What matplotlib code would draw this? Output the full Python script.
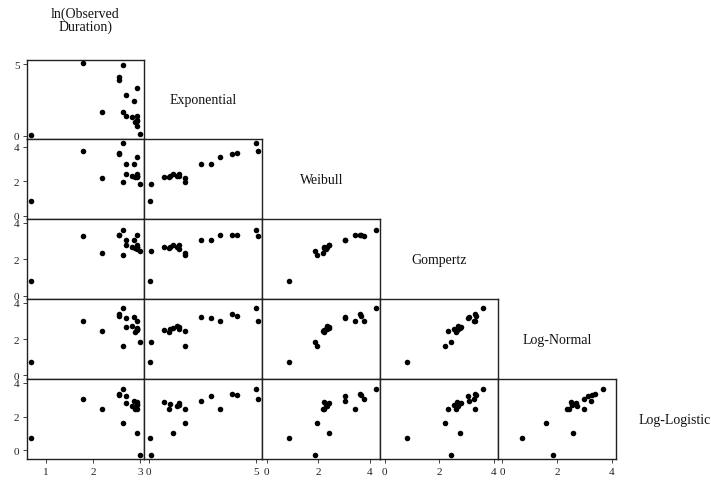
import numpy as np
import matplotlib.pyplot as plt

plt.rcParams['font.family'] = ['Liberation Serif', 'DejaVu Serif']

ln_obs      = [0.68, 2.99, 2.93, 2.90, 2.93, 2.93, 2.83, 2.71, 2.93, 2.20, 2.63, 2.88, 2.71, 2.93, 2.55, 2.55, 2.63, 1.79]
exponential = [0.08, 0.09, 0.70, 0.94, 1.00, 1.13, 1.33, 1.41, 1.41, 1.67, 1.67, 2.42, 2.87, 3.30, 3.86, 4.12, 4.96, 5.07]
weibull     = [0.86, 1.86, 2.24, 2.24, 2.33, 2.43, 2.33, 2.43, 2.30, 2.20, 1.95, 3.02, 3.02, 3.41, 3.62, 3.66, 4.23, 3.77]
gompertz    = [0.82, 2.43, 2.65, 2.63, 2.68, 2.77, 2.68, 2.81, 2.56, 2.32, 2.21, 3.08, 3.05, 3.32, 3.32, 3.36, 3.60, 3.27]
log_normal  = [0.73, 1.86, 2.52, 2.37, 2.54, 2.59, 2.74, 2.68, 2.55, 2.44, 1.61, 3.23, 3.14, 2.99, 3.38, 3.27, 3.69, 2.99]
log_logist  = [0.70, -0.30, 2.86, 2.44, 2.75, 1.00, 2.63, 2.80, 2.70, 2.46, 1.60, 2.92, 3.20, 2.44, 3.35, 3.29, 3.62, 3.04]

names = ['ln(Observed\nDuration)', 'Exponential', 'Weibull', 'Gompertz', 'Log-Normal', 'Log-Logistic']
tick_vals = [[1, 2, 3], [0, 5], [0, 2, 4], [0, 2, 4], [0, 2, 4], [0, 2, 4]]

data = [np.array(v) for v in [ln_obs, exponential, weibull, gompertz, log_normal, log_logist]]
n_var = len(data)

W, H = 711, 481
fig = plt.figure(figsize=(W / 100, H / 100), dpi=100)

# cell grid in pixels (row 0 / last column are the label-only diagonal cells)
x0, y0 = 26.5, 60.5
cw, ch = 117.9, 79.9


def limits(k, frac):
    # stata style: range covers data and ticks, plus a small pad
    lo = min(data[k].min(), min(tick_vals[k]))
    hi = max(data[k].max(), max(tick_vals[k]))
    pad = frac * (hi - lo)
    return lo - pad, hi + pad


for i in range(1, n_var):
    for j in range(i):
        left = x0 + j * cw
        top = y0 + (i - 1) * ch
        ax = fig.add_axes([left / W, 1 - (top + ch) / H, cw / W, ch / H])
        ax.scatter(data[j], data[i], s=16, color='black', linewidths=0, zorder=3)
        ax.set_xlim(*limits(j, 0.04))
        ax.set_ylim(*limits(i, 0.05))

        for side in ['left', 'bottom', 'top', 'right']:
            ax.spines[side].set_color('#222222')
            ax.spines[side].set_linewidth(1.0)

        ax.tick_params(direction='out', length=3, width=0.6, labelsize=8,
                       colors='#222222')
        ax.tick_params(axis='y', pad=2)
        ax.tick_params(axis='x', pad=3)
        if j == 0:
            ax.set_yticks(tick_vals[i])
        else:
            ax.set_yticks([])
        if i == n_var - 1:
            ax.set_xticks(tick_vals[j])
        else:
            ax.set_xticks([])

# variable names on the diagonal
for k in range(n_var):
    cx = x0 + k * cw + cw / 2
    cy = y0 + (k - 1) * ch + ch / 2
    fig.text(cx / W, 1 - cy / H, names[k], ha='center', va='center',
             fontsize=10, color='#111111', linespacing=0.95)

fig.savefig('out.png', dpi=100)
